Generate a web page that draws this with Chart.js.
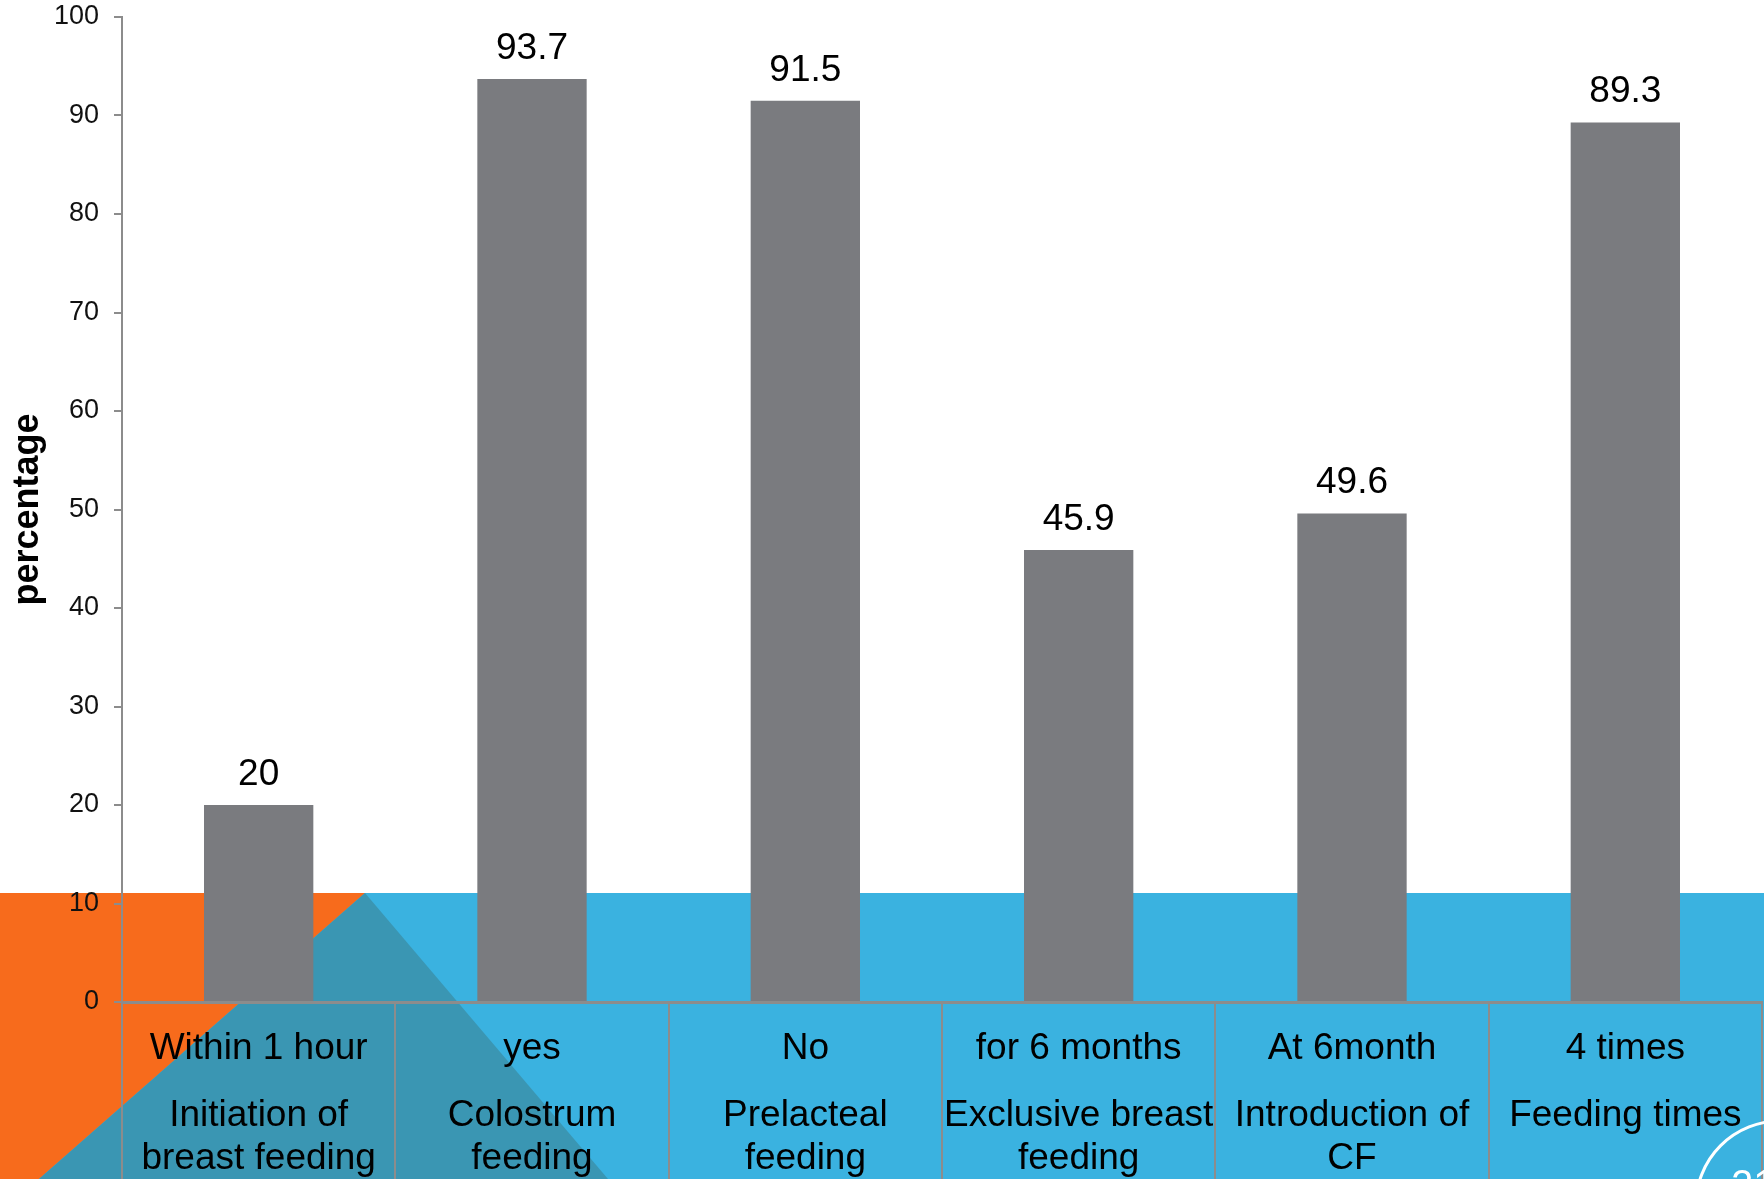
<!DOCTYPE html>
<html>
<head>
<meta charset="utf-8">
<script src="https://cdn.jsdelivr.net/npm/chart.js@4/dist/chart.umd.min.js"></script>
<style>
  html, body { margin: 0; padding: 0; background: #fff; }
  #wrap { width: 1764px; height: 1179px; position: relative; }
</style>
</head>
<body>
<div id="wrap"><canvas id="chart"></canvas></div>
<script>
const topLabels = ["Within 1 hour", "yes", "No", "for 6 months", "At 6month", "4 times"];
const groupLabels = [
  ["Initiation of", "breast feeding"],
  ["Colostrum", "feeding"],
  ["Prelacteal", "feeding"],
  ["Exclusive breast", "feeding"],
  ["Introduction of", "CF"],
  ["Feeding times"]
];
const values = [20, 93.7, 91.5, 45.9, 49.6, 89.3];
const yTicks = [0, 10, 20, 30, 40, 50, 60, 70, 80, 90, 100];

const axisGray = "#8c8c8c";
const font = "'Liberation Sans', Arial, sans-serif";

// slide background: blue band with orange corner and teal triangle
const backdrop = {
  id: "backdrop",
  beforeDraw(chart) {
    const c = chart.ctx;
    const w = chart.width, h = chart.height;
    c.save();
    c.fillStyle = "#ffffff";
    c.fillRect(0, 0, w, h);
    c.fillStyle = "#3ab2e0";
    c.fillRect(0, 893, w, h - 893);
    c.fillStyle = "#f76b1c";
    c.beginPath();
    c.moveTo(0, 893); c.lineTo(365, 893); c.lineTo(39, h); c.lineTo(0, h);
    c.closePath(); c.fill();
    c.fillStyle = "#3a96b3";
    c.beginPath();
    c.moveTo(365, 893); c.lineTo(608, h); c.lineTo(39, h);
    c.closePath(); c.fill();
    c.restore();
  },
  afterDraw(chart) {
    const c = chart.ctx;
    c.save();
    c.strokeStyle = "#ffffff";
    c.lineWidth = 3;
    c.beginPath();
    c.arc(1780, 1205, 84, 0, Math.PI * 2);
    c.stroke();
    c.fillStyle = "#ffffff";
    c.font = "40px " + font;
    c.textBaseline = "alphabetic";
    c.fillText("21", 1731, 1198);
    c.restore();
  }
};

// value labels above the bars
const valueLabels = {
  id: "valueLabels",
  afterDatasetsDraw(chart) {
    const c = chart.ctx;
    const meta = chart.getDatasetMeta(0);
    c.save();
    c.fillStyle = "#000";
    c.font = "37px " + font;
    c.textAlign = "center";
    c.textBaseline = "alphabetic";
    meta.data.forEach((bar, i) => {
      c.fillText(String(values[i]), bar.x, bar.y - 20);
    });
    c.restore();
  }
};

new Chart(document.getElementById("chart"), {
  type: "bar",
  data: {
    labels: topLabels,
    datasets: [{
      data: values,
      backgroundColor: "#7a7b7f",
      barPercentage: 0.4,
      categoryPercentage: 1
    }]
  },
  options: {
    responsive: true,
    maintainAspectRatio: false,
    animation: false,
    layout: { padding: { top: 17, right: 2, left: 0, bottom: 0 } },
    plugins: {
      legend: { display: false },
      tooltip: { enabled: false }
    },
    scales: {
      x: {
        type: "category",
        position: "bottom",
        offset: true,
        weight: 0,
        grid: {
          offset: true,
          drawOnChartArea: false,
          drawTicks: true,
          tickLength: 78,
          color: axisGray,
          lineWidth: 2
        },
        border: { display: true, color: axisGray, width: 3 },
        ticks: {
          autoSkip: false,
          maxRotation: 0,
          minRotation: 0,
          padding: -52,
          color: "#000",
          font: { family: font, size: 37, lineHeight: 1.15 }
        },
        afterFit(scale) { scale.height = 78; }
      },
      x2: {
        type: "category",
        position: "bottom",
        labels: groupLabels,
        offset: true,
        weight: 1,
        grid: {
          offset: true,
          drawOnChartArea: false,
          drawTicks: true,
          tickLength: 99,
          color: axisGray,
          lineWidth: 2
        },
        border: { display: false },
        ticks: {
          autoSkip: false,
          maxRotation: 0,
          minRotation: 0,
          padding: -84,
          color: "#000",
          font: { family: font, size: 37, lineHeight: 1.15 }
        },
        afterFit(scale) { scale.height = 99; }
      },
      y: {
        min: 0,
        max: 100,
        afterBuildTicks(scale) {
          scale.ticks = yTicks.map(v => ({ value: v }));
        },
        grid: {
          drawOnChartArea: false,
          drawTicks: true,
          tickLength: 8,
          color: axisGray,
          lineWidth: 2
        },
        border: { display: true, color: axisGray, width: 2 },
        ticks: {
          padding: 15,
          color: "#111",
          font: { family: font, size: 27 }
        },
        title: {
          display: true,
          text: "percentage",
          color: "#000",
          padding: { top: 6, bottom: 0 },
          font: { family: font, size: 36, weight: "bold", lineHeight: 1.2 }
        },
        afterFit(scale) {
          scale.width = 122;
          scale.paddingTop = 0;
          scale.paddingBottom = 0;
        }
      }
    }
  },
  plugins: [backdrop, valueLabels]
});
</script>
</body>
</html>
